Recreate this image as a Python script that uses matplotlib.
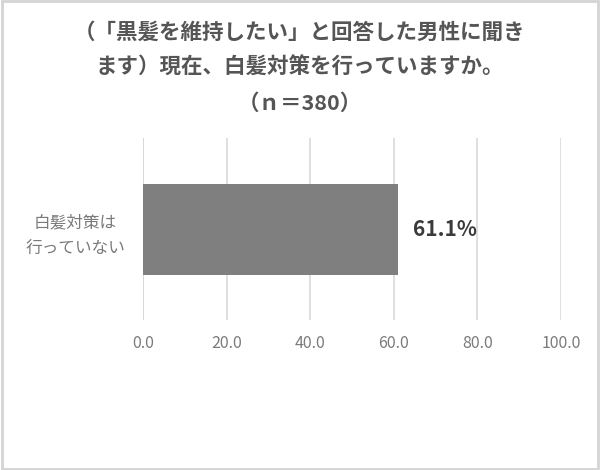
import matplotlib
matplotlib.use("Agg")
import matplotlib.pyplot as plt
from matplotlib.patches import Rectangle

plt.rcParams['font.family'] = ['Noto Sans CJK JP', 'DejaVu Sans']

# データ
categories = ["白髪対策は\n行っていない"]
values = [61.1]
value_labels = ["61.1%"]
x_ticks = [0, 20, 40, 60, 80, 100]
title_lines = ["（「黒髪を維持したい」と回答した男性に聞き",
               "ます）現在、白髪対策を行っていますか。",
               "（ｎ＝380）"]

fig = plt.figure(figsize=(6, 4.7), dpi=100)
ax = fig.add_axes([143 / 600, 1 - 320 / 470, 418 / 600, 182 / 470])

ax.barh(range(len(categories)), values, height=0.5, color="#7f7f7f", zorder=3)
for i, (v, lab) in enumerate(zip(values, value_labels)):
    ax.text(v + 3.5, i, lab, va="center", ha="left", fontsize=15,
            fontweight="bold", color="#3a3a3a")

ax.set_xlim(0, 100)
ax.set_ylim(-0.5, 0.5)
ax.set_xticks(x_ticks)
ax.set_xticklabels([f"{t:.1f}" for t in x_ticks], fontsize=11.5, color="#7a7a7a")
ax.set_yticks(range(len(categories)))
ax.set_yticklabels(categories, fontsize=12, color="#7a7a7a", linespacing=1.65,
                   multialignment="center")
ax.tick_params(axis="x", length=0, pad=11)
ax.tick_params(axis="y", length=0, pad=13)
ax.grid(axis="x", color="#d9d9d9", linewidth=1.2, zorder=0)
for s in ax.spines.values():
    s.set_visible(False)
ax.axvline(0, color="#d0d0d0", linewidth=1.2, zorder=1)

# タイトル
for k, line in enumerate(title_lines):
    fig.text(0.5, 1 - (32 + 35.5 * k) / 470, line, ha="center", va="center",
             fontsize=15.5, fontweight="bold", color="#555555")

# 外枠
fig.patches.append(Rectangle((0.003, 0.003), 0.994, 0.994, transform=fig.transFigure,
                             fill=False, edgecolor="#d4d4d4", linewidth=2))

fig.savefig("out.png", dpi=100)
